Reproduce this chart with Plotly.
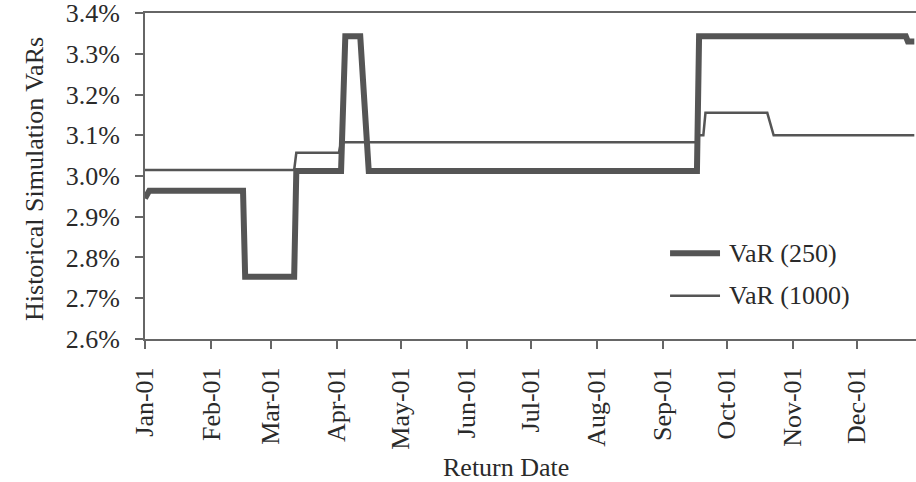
import plotly.graph_objects as go

# VaR(250) series (percent)
var250_dates = ["2001-01-01", "2001-01-03", "2001-02-16", "2001-02-17", "2001-03-12", "2001-03-13",
                "2001-04-03", "2001-04-05", "2001-04-12", "2001-04-16", "2001-09-17", "2001-09-18",
                "2001-12-24", "2001-12-25", "2001-12-28"]
var250_vals = [2.945, 2.964, 2.964, 2.753, 2.753, 3.012,
               3.012, 3.343, 3.343, 3.012, 3.012, 3.343,
               3.343, 3.330, 3.330]

# VaR(1000) series (percent)
var1000_dates = ["2001-01-01", "2001-03-12", "2001-03-13", "2001-04-02", "2001-04-03", "2001-09-17",
                 "2001-09-18", "2001-09-20", "2001-09-21", "2001-10-20", "2001-10-23", "2001-12-28"]
var1000_vals = [3.015, 3.015, 3.057, 3.057, 3.083, 3.083,
                3.100, 3.100, 3.155, 3.155, 3.100, 3.100]

tick_dates = ["2001-01-01", "2001-02-01", "2001-03-01", "2001-04-01", "2001-05-01", "2001-06-01",
              "2001-07-01", "2001-08-01", "2001-09-01", "2001-10-01", "2001-11-01", "2001-12-01"]
tick_labels = ["Jan-01", "Feb-01", "Mar-01", "Apr-01", "May-01", "Jun-01",
               "Jul-01", "Aug-01", "Sep-01", "Oct-01", "Nov-01", "Dec-01"]
y_ticks = [2.6, 2.7, 2.8, 2.9, 3.0, 3.1, 3.2, 3.3, 3.4]

series_names = ["VaR (250)", "VaR (1000)"]
LINE = "#555555"
FONT = "Liberation Serif, Times New Roman, serif"

fig = go.Figure()
fig.add_trace(go.Scatter(x=var1000_dates, y=var1000_vals, mode="lines",
                         line=dict(color=LINE, width=2.5), name=series_names[1], showlegend=False))
fig.add_trace(go.Scatter(x=var250_dates, y=var250_vals, mode="lines",
                         line=dict(color=LINE, width=6), name=series_names[0], showlegend=False))

fig.update_layout(
    width=916, height=482,
    margin=dict(l=145, r=0, t=13, b=143),
    paper_bgcolor="white", plot_bgcolor="white",
    font=dict(family=FONT, size=26, color="#2a2a2a"),
)
fig.update_xaxes(
    type="date", range=["2001-01-01", "2001-12-28 19:00"],
    tickvals=tick_dates, ticktext=tick_labels, tickangle=-90,
    ticks="outside", ticklen=8, tickwidth=1.5, tickcolor="#666",
    showline=True, linecolor="#666", linewidth=2, mirror=True,
    showgrid=False, zeroline=False, ticklabelstandoff=8,
)
fig.update_yaxes(
    range=[2.5999, 3.4001], tickvals=y_ticks, ticktext=[f"{v:.1f}%" for v in y_ticks],
    ticks="outside", ticklen=8, tickwidth=1.5, tickcolor="#666",
    showline=True, linecolor="#666", linewidth=2,
    showgrid=False, zeroline=False, ticklabelstandoff=10,
    ticklabeloverflow="allow",
)

# axis titles
fig.add_annotation(text="Historical Simulation VaRs", xref="paper", yref="paper",
                   x=-0.1427, y=0.4908, textangle=-90, showarrow=False,
                   xanchor="center", yanchor="middle", font=dict(size=26))
fig.add_annotation(text="Return Date", xref="paper", yref="paper",
                   x=0.4682, y=-0.3957, showarrow=False,
                   xanchor="center", yanchor="middle", font=dict(size=26))

# legend (manual)
leg_y = [0.2629, 0.1328]
leg_w = [6, 2.5]
for name, yy, w in zip(series_names, leg_y, leg_w):
    fig.add_shape(type="line", xref="paper", yref="paper", x0=0.681, x1=0.7458, y0=yy, y1=yy,
                  line=dict(color=LINE, width=w))
    fig.add_annotation(text=name, xref="paper", yref="paper", x=0.7549, y=yy,
                       showarrow=False, xanchor="left", yanchor="middle", font=dict(size=26))

fig.write_html("out.html",
               config={"displayModeBar": False},
               post_script="document.body.style.margin='0';document.body.style.overflow='hidden';")
